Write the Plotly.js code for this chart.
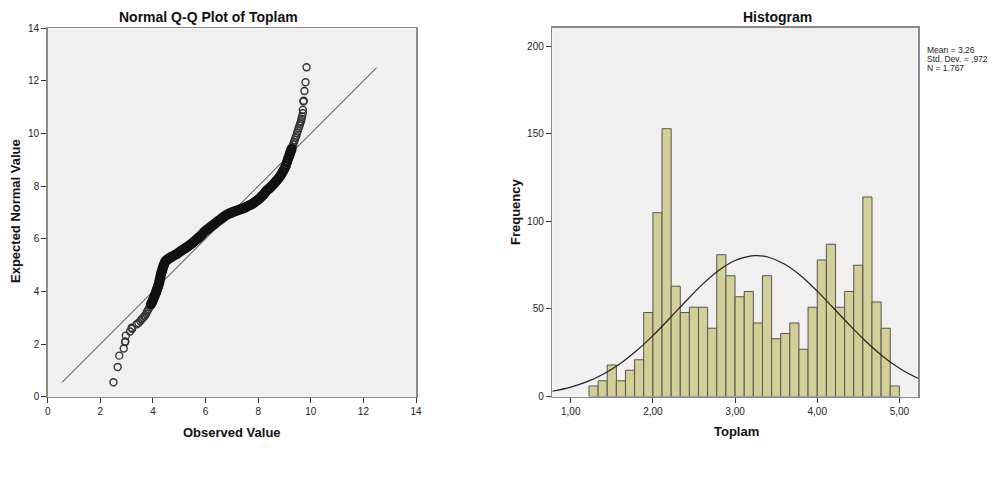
<!DOCTYPE html>
<html>
<head>
<meta charset="utf-8">
<script src="https://cdn.plot.ly/plotly-3.0.1.min.js"></script>
<style>html,body{margin:0;padding:0;background:#fff;}#chart{width:996px;height:494px;}</style>
</head>
<body>
<div id="chart"></div>
<script>
const qqObserved = [2.50,2.66,2.72,2.89,2.94,2.95,2.97,3.13,3.19,3.21,3.38,3.45,3.52,3.57,3.62,3.67,3.70,3.74,3.78,3.83,3.88,3.93,3.97,4.01,4.05,4.09,4.12,4.15,4.18,4.21,4.24,4.26,4.28,4.30,4.32,4.35,4.37,4.40,4.43,4.47,4.52,4.58,4.66,4.74,4.82,4.91,5.00,5.08,5.17,5.25,5.34,5.42,5.50,5.58,5.66,5.73,5.80,5.88,5.96,6.04,6.12,6.20,6.28,6.36,6.43,6.51,6.59,6.67,6.75,6.83,6.91,6.99,7.07,7.15,7.23,7.31,7.38,7.45,7.52,7.60,7.68,7.76,7.84,7.92,8.00,8.07,8.14,8.20,8.26,8.33,8.40,8.47,8.54,8.61,8.68,8.75,8.82,8.88,8.94,9.00,9.05,9.10,9.14,9.18,9.21,9.24,9.27,9.30,9.33,9.36,9.39,9.42,9.45,9.48,9.51,9.54,9.57,9.60,9.63,9.65,9.67,9.70,9.70,9.72,9.73,9.76,9.80,9.84];
const qqExpected = [0.55,1.13,1.56,1.83,2.08,2.10,2.32,2.48,2.62,2.58,2.75,2.80,2.88,2.94,2.99,3.05,3.09,3.15,3.24,3.32,3.42,3.52,3.60,3.70,3.80,3.90,3.97,4.06,4.15,4.24,4.34,4.44,4.53,4.63,4.71,4.80,4.88,4.97,5.05,5.14,5.19,5.24,5.29,5.33,5.38,5.43,5.49,5.55,5.61,5.66,5.72,5.78,5.84,5.91,5.98,6.04,6.10,6.19,6.27,6.34,6.40,6.46,6.52,6.58,6.64,6.70,6.76,6.82,6.88,6.93,6.97,7.00,7.03,7.06,7.09,7.12,7.15,7.17,7.20,7.24,7.28,7.32,7.37,7.43,7.49,7.55,7.62,7.68,7.76,7.84,7.90,7.96,8.03,8.11,8.19,8.27,8.36,8.45,8.56,8.67,8.78,8.92,9.05,9.15,9.25,9.33,9.42,9.50,9.58,9.67,9.75,9.84,9.92,10.02,10.11,10.20,10.30,10.38,10.47,10.56,10.65,10.77,10.90,11.22,11.25,11.62,11.95,12.52];
const refLineX = [0.55, 12.5];
const refLineY = [0.55, 12.5];

// Histogram data
const binCenters = [1.278,1.389,1.500,1.611,1.722,1.833,1.944,2.056,2.167,2.278,2.389,2.500,2.611,2.722,2.833,2.944,3.056,3.167,3.278,3.389,3.500,3.611,3.722,3.833,3.944,4.056,4.167,4.278,4.389,4.500,4.611,4.722,4.833,4.944];
const binCounts = [6,9,18,9,15,21,48,105,153,63,48,51,51,39,81,69,57,60,42,69,33,36,42,27,51,78,87,51,60,75,114,54,39,6];
const binWidth = 0.1111;

// Normal curve
const curveX = [0.776,1.0,1.2,1.4,1.6,1.8,2.0,2.2,2.4,2.6,2.8,3.0,3.2,3.26,3.4,3.6,3.8,4.0,4.2,4.4,4.6,4.8,5.0,5.2,5.23];
const curveY = [3.0,5.4,8.5,12.9,18.7,26.1,34.8,44.4,54.4,63.9,72.0,77.7,80.3,80.5,79.7,75.7,69.0,60.2,50.4,40.5,31.1,22.9,16.2,11.0,10.3];

const histTickVals = [1,2,3,4,5];
const histTickText = ['1,00','2,00','3,00','4,00','5,00'];
const freqTickVals = [0,50,100,150,200];
const statsLines = ['Mean = 3,26','Std. Dev. = ,972','N = 1.767'];

const W = 996, H = 494;
const px = v => v / W;
const py = v => 1 - v / H;
const FONT = 'Arial, "Liberation Sans", sans-serif';

// split points into the sparse tails and the densely packed body
const denseLo = 3.45, denseHi = 9.45;
const body = {x: [], y: []}, tails = {x: [], y: []};
qqObserved.forEach((v, i) => {
  const e = qqExpected[i];
  const t = (e >= denseLo && e <= denseHi) ? body : tails;
  t.x.push(v); t.y.push(e);
});

const traces = [
  {
    x: refLineX, y: refLineY, type: 'scatter', mode: 'lines',
    line: {color: '#2b2b2b', width: 1}, xaxis: 'x', yaxis: 'y', hoverinfo: 'skip'
  },
  {
    x: tails.x, y: tails.y, type: 'scatter', mode: 'markers',
    marker: {symbol: 'circle-open', size: 7, color: '#333333', line: {width: 1.4, color: '#333333'}},
    xaxis: 'x', yaxis: 'y'
  },
  {
    x: body.x, y: body.y, type: 'scatter', mode: 'markers',
    marker: {symbol: 'circle-open', size: 7.5, color: '#111111', line: {width: 2.8, color: '#111111'}},
    xaxis: 'x', yaxis: 'y'
  },
  {
    x: binCenters, y: binCounts, type: 'bar', width: binWidth,
    marker: {color: '#d4ce98', line: {color: '#555555', width: 1}},
    xaxis: 'x2', yaxis: 'y2'
  },
  {
    x: curveX, y: curveY, type: 'scatter', mode: 'lines',
    line: {color: '#222222', width: 1.2, shape: 'spline'},
    xaxis: 'x2', yaxis: 'y2', hoverinfo: 'skip'
  }
];

const axisCommon = {
  ticks: 'outside', ticklen: 5, tickwidth: 1, tickcolor: '#333',
  showline: true, mirror: true, linecolor: '#8a8a8a', linewidth: 1.5,
  showgrid: false, zeroline: false,
  tickfont: {family: FONT, size: 10, color: '#222'}
};

function ann(text, x, y, size, extra) {
  return Object.assign({
    text: text, xref: 'paper', yref: 'paper', x: px(x), y: py(y),
    xanchor: 'center', yanchor: 'middle', showarrow: false,
    font: {family: FONT, size: size, color: '#111'}
  }, extra || {});
}

const annotations = [
  ann('<b>Normal Q-Q Plot of Toplam</b>', 208.7, 17, 14),
  ann('<b>Histogram</b>', 777, 17, 14),
  ann('<b>Observed Value</b>', 232, 432, 13),
  ann('<b>Toplam</b>', 736, 431.5, 13),
  ann('<b>Expected Normal Value</b>', 15, 211, 13, {textangle: -90}),
  ann('<b>Frequency</b>', 515, 212, 13, {textangle: -90})
];
const statsY = [50, 59, 68];
statsLines.forEach((s, i) => {
  annotations.push(ann(s, 925, statsY[i], 8.5, {xanchor: 'left', font: {family: FONT, size: 8.5, color: '#222'}}));
});

const layout = {
  width: W, height: H,
  margin: {l: 0, r: 0, t: 0, b: 0},
  paper_bgcolor: '#ffffff',
  plot_bgcolor: '#f0f0f0',
  showlegend: false,
  bargap: 0,
  xaxis: Object.assign({}, axisCommon, {domain: [px(47.7), px(416)], range: [0, 14], dtick: 2, tick0: 0, anchor: 'y'}),
  yaxis: Object.assign({}, axisCommon, {domain: [1 - 396.7 / H, 1 - 28.3 / H], range: [0, 14], dtick: 2, tick0: 0, anchor: 'x'}),
  xaxis2: Object.assign({}, axisCommon, {domain: [px(552.3), px(918.3)], range: [0.776, 5.23], tickvals: histTickVals, ticktext: histTickText, anchor: 'y2'}),
  yaxis2: Object.assign({}, axisCommon, {domain: [1 - 396.5 / H, 1 - 27.7 / H], range: [0, 210.7], tickvals: freqTickVals, anchor: 'x2'}),
  annotations: annotations
};

Plotly.newPlot('chart', traces, layout, {displayModeBar: false, staticPlot: true});
</script>
</body>
</html>
